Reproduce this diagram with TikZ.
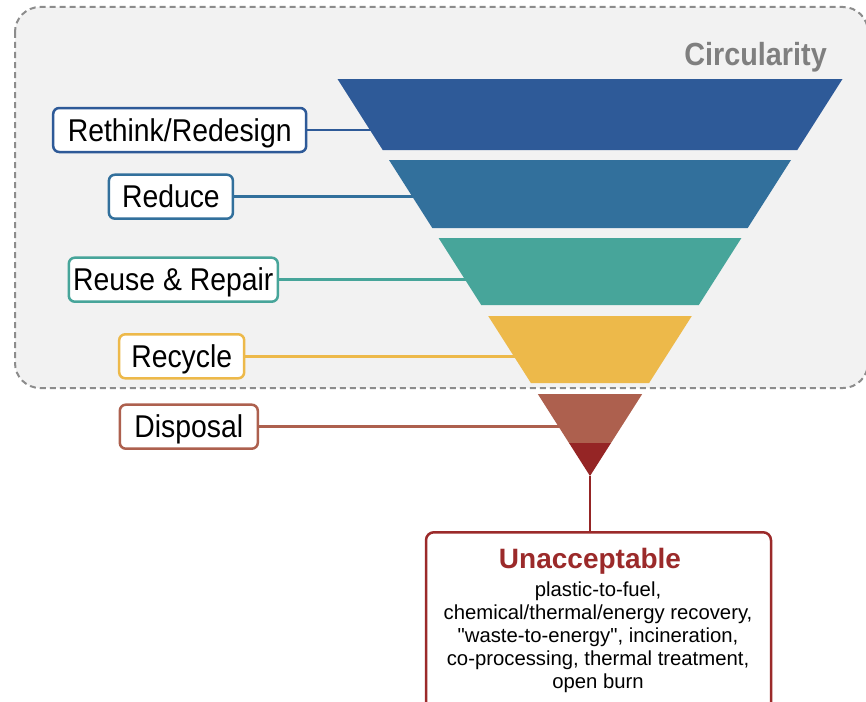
\documentclass[tikz,border=0pt]{standalone}
\usepackage{fontspec}
\setmainfont{Liberation Sans}
\newfontfamily\lblfont[FakeStretch=0.9]{Liberation Sans}
\newfontfamily\bodyfont{Liberation Sans}
\usetikzlibrary{calc}
\definecolor{blueA}{HTML}{2E5A98}
\definecolor{blueB}{HTML}{32709C}
\definecolor{tealC}{HTML}{47A59A}
\definecolor{yellowD}{HTML}{EDB94A}
\definecolor{terraE}{HTML}{AD604E}
\definecolor{darkredF}{HTML}{952525}
\definecolor{unacc}{HTML}{9B2A2A}
\definecolor{bgpanel}{HTML}{F2F2F2}
\definecolor{dashgray}{HTML}{8C8C8C}
\definecolor{circgray}{HTML}{7F7F7F}
\tikzset{
  lbl/.style={draw=#1, line width=2.5pt, rounded corners=6pt, fill=white,
    font=\lblfont\fontsize{31.5}{31.5}\selectfont, text=black, inner sep=0pt,
    text height=22pt, text depth=0pt},
  conn/.style={draw=#1, line width=2.8pt},
  band/.style={fill=#1, draw=none},
}
\begin{document}
\begin{tikzpicture}[x=1pt,y=-1pt]
\useasboundingbox (0,0) rectangle (866,701);
\clip (0,0) rectangle (866,701);
% panel
\draw[draw=dashgray, fill=bgpanel, line width=2pt, dash pattern=on 6pt off 4pt, rounded corners=25pt]
  (15,7) rectangle (868,388);
\node[anchor=base east, font=\lblfont\bfseries\fontsize{32}{32}\selectfont, text=circgray, inner sep=0pt]
  (circ) at (827,65.7) {Circularity};
% labels
\node[lbl=blueA, minimum width=253pt, minimum height=44pt] (rethink) at (179.7,130) {Rethink/Redesign};
\node[lbl=blueB, minimum width=124pt, minimum height=44pt] (reduce) at (170.9,196.7) {Reduce};
\node[lbl=tealC, minimum width=209pt, minimum height=44pt] (reuse) at (173.3,279.7) {Reuse \& Repair};
\node[lbl=yellowD, minimum width=125pt, minimum height=44pt] (recycle) at (181.7,356.3) {Recycle};
\node[lbl=terraE, minimum width=138pt, minimum height=44pt] (disposal) at (188.8,426.7) {Disposal};
% connector ends (inside funnel bands)
\coordinate (e1) at (380,130);
\coordinate (e2) at (420,196.7);
\coordinate (e3) at (472,279.7);
\coordinate (e4) at (520,356.3);
\coordinate (e5) at (565,426.7);
\draw[conn=blueA] (rethink.east) -- (e1);
\draw[conn=blueB] (reduce.east) -- (e2);
\draw[conn=tealC] (reuse.east) -- (e3);
\draw[conn=yellowD] (recycle.east) -- (e4);
\draw[conn=terraE] (disposal.east) -- (e5);
% funnel
\fill[band=blueA] (337.5,79) -- (842.5,79) -- (797.3,150) -- (382.7,150) -- cycle;
\fill[band=blueB] (389,160) -- (791,160) -- (747.7,228) -- (432.3,228) -- cycle;
\fill[band=tealC] (438.6,238) -- (741.4,238) -- (698.8,305) -- (481.2,305) -- cycle;
\fill[band=yellowD] (488.2,316) -- (691.8,316) -- (649.1,383) -- (530.9,383) -- cycle;
\fill[band=terraE] (537.8,394) -- (642.2,394) -- (611,443) -- (569,443) -- cycle;
\fill[band=darkredF] (569,443) -- (611,443) -- (590,476) -- cycle;
\coordinate (apex) at (590,476);
% unacceptable box
\node[draw=unacc, line width=2.5pt, rounded corners=8pt, fill=white, inner sep=0pt,
  minimum width=345pt, minimum height=200pt, anchor=north] (ubox) at (598.5,531) {};
\draw[conn=darkredF] (apex) -- (ubox.north -| apex);
\node[anchor=base, inner sep=0pt, text=unacc, font=\bodyfont\bfseries\fontsize{28}{28}\selectfont]
  (utitle) at (590,568.3) {Unacceptable};
\node[anchor=north, inner sep=0pt, align=center, font=\bodyfont\fontsize{20.3}{23}\selectfont]
  (ubody) at (598,581.4) {plastic-to-fuel,\\chemical/thermal/energy recovery,\\"waste-to-energy", incineration,\\co-processing, thermal treatment,\\open burn};
\end{tikzpicture}
\end{document}
